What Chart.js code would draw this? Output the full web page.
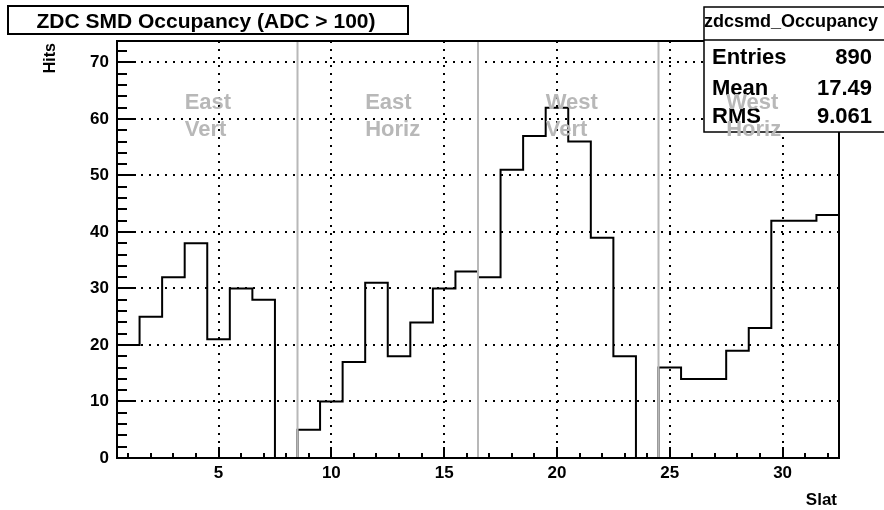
<!DOCTYPE html>
<html>
<head>
<meta charset="utf-8">
<script src="https://cdn.jsdelivr.net/npm/chart.js@4"></script>
<style>html,body{margin:0;padding:0;background:#fff;}canvas{display:block;}</style>
</head>
<body>
<canvas id="c" width="884" height="510"></canvas>
<script>
// ---- data ----
const slats = [1,2,3,4,5,6,7,8,9,10,11,12,13,14,15,16,17,18,19,20,21,22,23,24,25,26,27,28,29,30,31,32];
const hits  = [20,25,32,38,21,30,28,0,5,10,17,31,18,24,30,33,32,51,57,62,56,39,18,0,16,14,14,19,23,42,42,43];
const xTickLabels = [5,10,15,20,25,30];
const yTickLabels = [0,10,20,30,40,50,60,70];
const separators = [8.5,16.5,24.5];
const regionNames = [['East','Vert'],['East','Horiz'],['West','Vert'],['West','Horiz']];
const statsNames = ['Entries','Mean','RMS'];
const statsValues = ['890','17.49','9.061'];
const histName = 'zdcsmd_Occupancy';
const chartTitle = 'ZDC SMD Occupancy (ADC > 100)';
const xTitle = 'Slat';
const yTitle = 'Hits';
const xMin = 0.5, xMax = 32.5, yMin = 0, yMax = 73.8;

// ---- derived ----
const histPoints = slats.map((s, i) => ({x: s - 0.5, y: hits[i]}));
histPoints.push({x: slats[slats.length - 1] + 0.5, y: hits[hits.length - 1]});
const FONT = '"Liberation Sans", Arial, Helvetica, sans-serif';
const GRAY = '#b8b8b8';

const sepDatasets = separators.map(s => ({
  data: [{x: s, y: yMin}, {x: s, y: yMax}],
  borderColor: GRAY, borderWidth: 2, pointRadius: 0, fill: false, order: 0
}));

const decor = {
  id: 'decor',
  afterDatasetsDraw(chart) {
    const ctx = chart.ctx, a = chart.chartArea;
    const xs = chart.scales.x, ys = chart.scales.y;
    ctx.save();
    ctx.strokeStyle = '#000';
    ctx.lineWidth = 2;
    // ticks on x
    ctx.beginPath();
    for (let v = Math.ceil(xMin); v <= xMax; v++) {
      const px = Math.round(xs.getPixelForValue(v));
      const len = (v % 5 === 0) ? 11 : 5;
      ctx.moveTo(px, a.bottom); ctx.lineTo(px, a.bottom - len);
    }
    for (let v = yMin; v <= yMax; v += 2) {
      const py = Math.round(ys.getPixelForValue(v));
      const len = (v % 10 === 0) ? 19 : 10;
      ctx.moveTo(a.left, py); ctx.lineTo(a.left + len, py);
    }
    ctx.stroke();
    // frame
    ctx.strokeRect(a.left, a.top, a.right - a.left, a.bottom - a.top);

    // stats box
    const bx = 704, by = 7, bw = 182, bh = 125, divY = 40;
    ctx.fillStyle = '#fff';
    ctx.fillRect(bx, by, bw, bh);
    ctx.lineWidth = 1.5;
    ctx.strokeRect(bx, by, bw, bh);
    ctx.beginPath(); ctx.moveTo(bx, divY); ctx.lineTo(bx + bw, divY); ctx.stroke();
    ctx.fillStyle = '#000';
    ctx.textBaseline = 'alphabetic';
    ctx.font = 'bold 18px ' + FONT;
    ctx.textAlign = 'center';
    ctx.fillText(histName, 791, 27);
    ctx.font = 'bold 22px ' + FONT;
    const rowsY = [64, 95, 123];
    statsNames.forEach((n, i) => {
      ctx.textAlign = 'left';
      ctx.fillText(n, 712, rowsY[i]);
      ctx.textAlign = 'right';
      ctx.fillText(statsValues[i], 872, rowsY[i]);
    });

    // region labels
    ctx.fillStyle = GRAY;
    ctx.font = 'bold 22px ' + FONT;
    ctx.textAlign = 'left';
    const starts = [xMin].concat(separators);
    regionNames.forEach((lines, i) => {
      const px = xs.getPixelForValue(starts[i] + 3);
      ctx.fillText(lines[0], px, a.top + 68);
      ctx.fillText(lines[1], px, a.top + 95);
    });

    // main title box
    ctx.fillStyle = '#fff';
    ctx.fillRect(8, 6, 400, 28);
    ctx.lineWidth = 2;
    ctx.strokeRect(8, 6, 400, 28);
    ctx.fillStyle = '#000';
    ctx.font = 'bold 21px ' + FONT;
    ctx.textAlign = 'center';
    ctx.fillText(chartTitle, 206, 28);

    // axis titles
    ctx.font = 'bold 17px ' + FONT;
    ctx.textAlign = 'right';
    ctx.fillText(xTitle, a.right - 2, 505);
    ctx.save();
    ctx.translate(55, a.top + 2);
    ctx.rotate(-Math.PI / 2);
    ctx.font = 'bold 16px ' + FONT;
    ctx.textAlign = 'right';
    ctx.fillText(yTitle, 0, 0);
    ctx.restore();
    ctx.restore();
  }
};

new Chart(document.getElementById('c'), {
  type: 'line',
  data: {
    datasets: sepDatasets.concat([{
      data: histPoints,
      stepped: 'before',
      borderColor: '#000', borderWidth: 2,
      pointRadius: 0, fill: false, order: 1
    }])
  },
  options: {
    responsive: false,
    animation: false,
    layout: {padding: {top: 41, right: 45, left: 0, bottom: 0}},
    plugins: {legend: {display: false}, tooltip: {enabled: false}, title: {display: false}},
    scales: {
      x: {
        type: 'linear', min: xMin, max: xMax,
        afterBuildTicks: s => { s.ticks = xTickLabels.map(v => ({value: v})); },
        afterFit: s => { s.height = 52; },
        grid: {color: '#000', lineWidth: 2, drawTicks: false},
        border: {display: false, dash: [2, 6]},
        ticks: {padding: 5, color: '#000', maxRotation: 0, autoSkip: false,
                font: {family: FONT, size: 17, weight: 'bold'}}
      },
      y: {
        type: 'linear', min: yMin, max: yMax,
        afterBuildTicks: s => { s.ticks = yTickLabels.map(v => ({value: v})); },
        afterFit: s => { s.width = 117; },
        grid: {color: '#000', lineWidth: 2, drawTicks: false},
        border: {display: false, dash: [2, 6]},
        ticks: {padding: 8, color: '#000',
                font: {family: FONT, size: 17, weight: 'bold'}}
      }
    }
  },
  plugins: [decor]
});
</script>
</body>
</html>
